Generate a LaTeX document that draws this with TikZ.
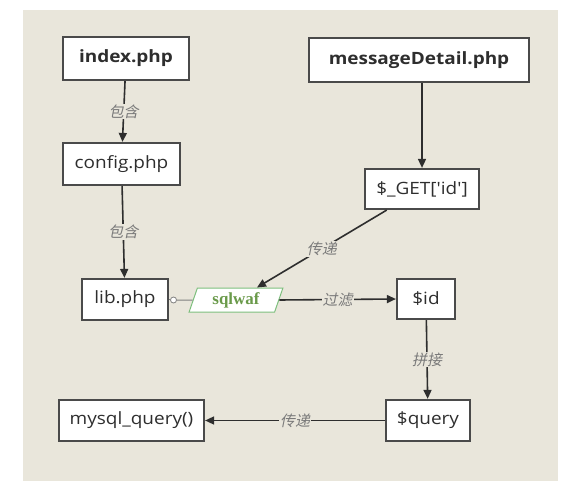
\documentclass[tikz,border=0pt]{standalone}
\usepackage{fontspec}
\setmainfont{Open Sans}
\newfontfamily\boxfont[FakeStretch=1.12]{Open Sans}
\newfontfamily\cjkfont[FakeSlant=0.2]{Noto Sans CJK SC}
\newfontfamily\waffont{Liberation Serif}
\usetikzlibrary{arrows.meta,shapes.geometric}
\definecolor{panel}{HTML}{E9E6DB}
\definecolor{boxline}{HTML}{4A4A4A}
\definecolor{txt}{HTML}{2E2E2E}
\definecolor{lbl}{HTML}{7A7A7A}
\definecolor{wafline}{HTML}{7DBF7D}
\definecolor{waftxt}{HTML}{6A9A4A}
\begin{document}
\begin{tikzpicture}[x=1bp,y=-1bp,
  box/.style={draw=boxline, line width=2.2bp, fill=white, text=txt,
    font=\boxfont\fontsize{17}{19}\selectfont, inner sep=0pt},
  conn/.style={draw=txt, line width=1.6bp},
  arr/.style={conn, -{Triangle[length=9bp,width=8bp]}},
  lab/.style={fill=panel, text=lbl, font=\cjkfont\fontsize{15}{17}\selectfont, inner sep=1bp}]
\useasboundingbox (0,0) rectangle (570,484);
\fill[white] (0,0) rectangle (570,484);
\fill[panel] (23,10) rectangle (558,481);

\node[box, minimum width=126bp, minimum height=43bp] (index) at (126,58.5) {\bfseries index.php};
\node[box, minimum width=220bp, minimum height=44bp] (detail) at (419,60) {\bfseries messageDetail.php};
\node[box, minimum width=117bp, minimum height=42bp] (config) at (121.5,164) {config.php};
\node[box, minimum width=114bp, minimum height=40bp] (get) at (422,189) {\$\_GET['id']};
\node[box, minimum width=86bp, minimum height=41bp] (lib) at (125,299.5) {lib.php};
\node[box, minimum width=58bp, minimum height=40bp] (id) at (426,299) {\$id};
\node[box, minimum width=84bp, minimum height=41bp] (query) at (428,420.5) {\$query};
\node[box, minimum width=145bp, minimum height=41bp] (mysql) at (131.5,420.5) {mysql\_query()};

\node[trapezium, trapezium left angle=72, trapezium right angle=108, trapezium stretches=true,
  minimum width=94bp, minimum height=24bp, inner sep=0pt, draw=wafline, line width=1bp, fill=white,
  text=waftxt, font=\waffont\fontsize{17}{19}\selectfont\bfseries] (waf) at (236,300) {sqlwaf};

\node[circle, draw=gray, line width=0.8bp, fill=white, minimum size=6bp, inner sep=0pt] (jn) at (173.5,300) {};
\draw[draw=gray, line width=0.8bp] (lib.east) -- (jn);
\draw[draw=gray, line width=1bp] (jn) -- (waf.west);

\draw[arr] (index) -- node[lab] (l1) {包含} (config);
\draw[arr] (config) -- node[lab] (l2) {包含} (lib);
\draw[arr] (detail.south -| get.north) -- (get.north);
\draw[arr] (get) -- node[lab] (l3) {传递} (waf);
\draw[arr] (waf.east) -- node[lab] (l4) {过滤} (id.west);
\draw[arr] (id) -- node[lab] (l5) {拼接} (query);
\draw[arr] (query) -- node[lab] (l6) {传递} (mysql);
\end{tikzpicture}
\end{document}
